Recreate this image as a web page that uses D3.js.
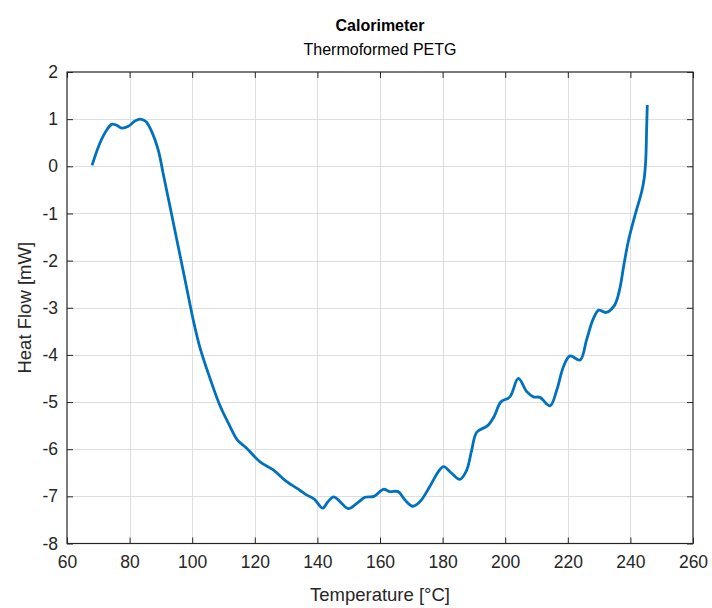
<!DOCTYPE html>
<html>
<head>
<meta charset="utf-8">
<script src="https://cdn.jsdelivr.net/npm/d3@7"></script>
<style>
  html, body { margin: 0; padding: 0; background: #ffffff; }
  svg { display: block; font-family: "Liberation Sans", Arial, Helvetica, sans-serif; }
</style>
</head>
<body>
<svg id="chart" width="712" height="608"></svg>
<script>
// DSC heat-flow trace for thermoformed PETG
const temperature = [
  68.0, 70.5, 72.7, 74.3, 75.9, 77.5, 79.6, 81.7, 83.3, 85.2,
  87.1, 89.2, 90.8, 92.9, 95.0, 97.2, 99.3, 100.4, 102.5, 105.7,
  108.9, 112.1, 114.4, 117.4, 121.7, 125.9, 130.2, 134.4, 136.5, 139.0,
  141.7, 143.3, 145.2, 147.2, 149.9, 152.6, 155.2, 158.1, 161.1, 163.2,
  165.8, 168.0, 170.5, 172.8, 176.0, 178.6, 180.3, 182.9, 185.5, 187.6,
  189.3, 190.9, 194.4, 196.5, 198.6, 201.5, 204.2, 206.9, 209.0, 211.1,
  214.3, 216.5, 218.6, 220.7, 223.9, 226.0, 228.1, 229.9, 232.2, 234.8,
  236.4, 237.9, 239.3, 241.5, 243.6, 244.4, 244.9, 245.2, 245.4
];
const heatFlow = [
  0.02, 0.49, 0.77, 0.89, 0.87, 0.81, 0.85, 0.96, 1.00, 0.95,
  0.73, 0.33, -0.18, -0.85, -1.53, -2.24, -2.93, -3.28, -3.85, -4.50,
  -5.08, -5.52, -5.80, -5.98, -6.27, -6.44, -6.69, -6.87, -6.97, -7.06,
  -7.25, -7.12, -7.01, -7.11, -7.26, -7.15, -7.02, -7.00, -6.85, -6.90,
  -6.90, -7.08, -7.21, -7.11, -6.78, -6.48, -6.37, -6.51, -6.64, -6.46,
  -6.02, -5.64, -5.50, -5.30, -5.00, -4.89, -4.50, -4.78, -4.89, -4.90,
  -5.08, -4.74, -4.25, -4.02, -4.11, -3.68, -3.24, -3.05, -3.10, -2.96,
  -2.66, -2.10, -1.60, -1.03, -0.54, -0.26, 0.13, 0.84, 1.30
];
const xTicks = [60, 80, 100, 120, 140, 160, 180, 200, 220, 240, 260];
const yTicks = [2, 1, 0, -1, -2, -3, -4, -5, -6, -7, -8];

const titleText = "Calorimeter";
const subtitleText = "Thermoformed PETG";
const xLabel = "Temperature [°C]";
const yLabel = "Heat Flow [mW]";

const svg = d3.select("#chart");
const W = 712, H = 608;
const margin = { left: 67, right: 19, top: 72, bottom: 64.5 };
const iw = W - margin.left - margin.right;
const ih = H - margin.top - margin.bottom;

const x = d3.scaleLinear().domain([60, 260]).range([0, iw]);
const y = d3.scaleLinear().domain([-8, 2]).range([ih, 0]);

const axisColor = "#262626";
const g = svg.append("g").attr("transform", `translate(${margin.left},${margin.top})`);

// grid
const grid = g.append("g").attr("stroke", "#dedede").attr("stroke-width", 1);
grid.selectAll("line.gx").data(xTicks.slice(1, -1)).join("line")
  .attr("x1", d => Math.round(x(d)) + 0.5).attr("x2", d => Math.round(x(d)) + 0.5)
  .attr("y1", 0).attr("y2", ih);
grid.selectAll("line.gy").data(yTicks.slice(1, -1)).join("line")
  .attr("y1", d => Math.round(y(d)) + 0.5).attr("y2", d => Math.round(y(d)) + 0.5)
  .attr("x1", 0).attr("x2", iw);

// data line
const pts = temperature.map((t, i) => [t, heatFlow[i]]);
const line = d3.line().x(d => x(d[0])).y(d => y(d[1])).curve(d3.curveCatmullRom.alpha(0.5));
g.append("path").datum(pts)
  .attr("fill", "none").attr("stroke", "#0072BD").attr("stroke-width", 2.8)
  .attr("stroke-linejoin", "round").attr("stroke-linecap", "butt")
  .attr("d", line);

// axes with inward ticks on all four sides; labels use a plain hyphen minus
const tickLen = 6;
const fmt = d => String(d);
function styleAxis(sel) {
  sel.select(".domain").remove();
  sel.selectAll(".tick line").attr("stroke", axisColor);
  sel.selectAll(".tick text").attr("fill", axisColor).attr("font-size", 17.5);
}
g.append("g").attr("transform", `translate(0,${ih})`)
  .call(d3.axisBottom(x).tickValues(xTicks).tickFormat(fmt).tickSizeInner(-tickLen).tickSizeOuter(0).tickPadding(12))
  .call(styleAxis);
g.append("g")
  .call(d3.axisTop(x).tickValues(xTicks).tickFormat("").tickSizeInner(-tickLen).tickSizeOuter(0))
  .call(styleAxis);
g.append("g")
  .call(d3.axisLeft(y).tickValues(yTicks).tickFormat(fmt).tickSizeInner(-tickLen).tickSizeOuter(0).tickPadding(9))
  .call(styleAxis);
g.append("g").attr("transform", `translate(${iw},0)`)
  .call(d3.axisRight(y).tickValues(yTicks).tickFormat("").tickSizeInner(-tickLen).tickSizeOuter(0))
  .call(styleAxis);

// box
g.append("rect").attr("x", 0).attr("y", 0).attr("width", iw).attr("height", ih)
  .attr("fill", "none").attr("stroke", axisColor).attr("stroke-width", 1.2);

// titles and labels
svg.append("text").attr("x", margin.left + iw / 2).attr("y", 31)
  .attr("text-anchor", "middle").attr("font-size", 16).attr("font-weight", "bold")
  .attr("fill", "#000").text(titleText);
svg.append("text").attr("x", margin.left + iw / 2).attr("y", 55)
  .attr("text-anchor", "middle").attr("font-size", 16)
  .attr("fill", "#000").text(subtitleText);
svg.append("text").attr("x", margin.left + iw / 2).attr("y", 601)
  .attr("text-anchor", "middle").attr("font-size", 18.5)
  .attr("fill", axisColor).text(xLabel);
svg.append("text")
  .attr("transform", `translate(31,${margin.top + ih / 2}) rotate(-90)`)
  .attr("text-anchor", "middle").attr("font-size", 18.5)
  .attr("fill", axisColor).text(yLabel);
</script>
</body>
</html>
